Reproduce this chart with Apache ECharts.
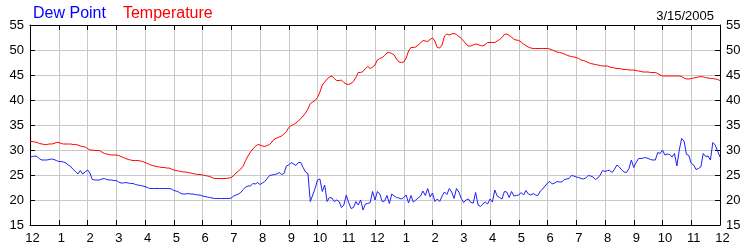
<!DOCTYPE html>
<html>
<head>
<meta charset="utf-8">
<script src="https://cdn.jsdelivr.net/npm/echarts@6/dist/echarts.min.js"></script>
<style>html,body{margin:0;padding:0;background:#fff;}#c{width:750px;height:250px;}</style>
</head>
<body>
<div id="c"></div>
<script>
// Hour tick labels (midnight to midnight)
const hourLabels = ['12','1','2','3','4','5','6','7','8','9','10','11','12','1','2','3','4','5','6','7','8','9','10','11','12'];
const seriesNames = ['Dew Point', 'Temperature'];
const dateLabel = '3/15/2005';
const samplesPerHour = 12; // 5-minute readings

// Temperature (°F), 5-minute readings from 12:00 AM to 12:00 AM
const temperature = [
  31.7,31.7,31.6,31.5,31.3,31.2,31.1,31.1,31.2,31.2,31.3,31.5,
  31.5,31.3,31.2,31.2,31.2,31.2,31.1,31.1,31.0,30.8,30.7,30.6,
  30.3,30.0,30.0,29.9,29.9,29.9,29.6,29.3,29.2,29.1,29.0,29.0,
  29.0,28.9,28.7,28.5,28.3,28.1,28.0,27.9,27.9,27.9,27.8,27.7,
  27.5,27.3,27.1,26.9,26.8,26.7,26.6,26.5,26.5,26.4,26.4,26.2,
  26.0,25.9,25.8,25.7,25.6,25.6,25.5,25.4,25.3,25.2,25.1,25.1,
  25.0,24.9,24.8,24.7,24.5,24.3,24.3,24.3,24.3,24.3,24.3,24.4,
  24.5,24.9,25.4,25.8,26.2,26.8,27.9,28.8,29.6,30.2,30.7,31.1,
  31.0,30.8,30.7,30.9,31.1,31.6,32.2,32.4,32.6,32.8,33.2,33.7,
  34.5,34.9,35.1,35.4,35.8,36.3,36.8,37.4,38.2,39.3,39.6,39.9,
  40.5,41.6,43.0,43.6,44.2,44.6,44.8,44.3,43.9,43.9,44.0,43.5,
  43.2,43.1,43.3,43.7,44.5,45.5,45.5,45.7,46.3,46.7,46.3,46.6,
  47.0,48.0,48.3,48.5,48.9,49.4,49.5,49.3,49.0,48.2,47.6,47.5,
  47.6,48.4,49.8,50.5,50.5,50.6,51.0,51.4,51.9,51.8,51.7,52.1,
  52.4,51.8,50.5,50.4,51.0,52.8,53.2,53.0,53.2,53.3,53.1,52.7,
  52.3,51.8,51.2,50.8,50.8,51.0,51.2,51.1,50.9,50.8,51.1,51.5,
  51.5,51.5,51.5,51.8,52.1,52.5,53.1,53.2,52.9,52.6,52.1,52.0,
  51.9,51.6,51.2,50.9,50.6,50.4,50.3,50.3,50.3,50.3,50.3,50.3,
  50.3,50.2,50.0,49.8,49.6,49.5,49.4,49.2,49.0,48.8,48.7,48.6,
  48.5,48.3,48.0,47.9,47.7,47.5,47.3,47.2,47.1,47.0,46.9,46.8,
  46.8,46.8,46.6,46.5,46.4,46.3,46.3,46.2,46.1,46.1,46.0,46.0,
  46.0,45.9,45.8,45.7,45.6,45.6,45.6,45.5,45.5,45.5,45.3,45.0,
  44.8,44.8,44.8,44.8,44.8,44.8,44.8,44.8,44.7,44.4,44.2,44.2,
  44.3,44.4,44.5,44.6,44.7,44.6,44.5,44.4,44.3,44.3,44.2,44.1,
  43.9
];

// Dew point (°F), 5-minute readings from 12:00 AM to 12:00 AM
const dewPoint = [
  28.6,28.7,28.8,28.7,28.2,28.0,28.0,28.0,28.1,28.2,28.1,27.9,
  27.7,27.7,27.6,27.4,27.0,26.7,26.1,25.7,25.2,25.9,25.2,25.6,
  26.0,25.4,24.1,24.0,24.0,24.0,24.2,24.3,24.1,24.0,24.0,23.9,
  23.9,23.6,23.4,23.4,23.5,23.4,23.3,23.3,23.1,23.0,22.9,22.8,
  22.7,22.5,22.3,22.3,22.3,22.3,22.3,22.3,22.3,22.3,22.3,22.2,
  21.9,21.8,21.6,21.3,21.2,21.2,21.3,21.2,21.2,21.1,21.0,21.0,
  20.8,20.7,20.6,20.5,20.4,20.3,20.3,20.3,20.3,20.3,20.3,20.3,
  20.4,20.8,21.0,21.2,21.5,22.1,22.6,22.8,22.8,23.3,23.2,23.5,
  23.1,23.4,23.7,24.3,24.9,25.0,25.1,25.2,25.5,25.1,25.3,26.8,
  27.0,27.5,27.2,26.9,27.5,27.5,26.5,25.6,25.3,19.7,21.0,22.3,
  24.0,24.2,21.7,23.0,19.7,20.5,20.4,19.7,20.0,19.7,18.5,19.0,
  21.0,19.5,18.3,18.5,19.7,19.0,20.0,18.0,19.2,19.3,19.5,21.7,
  20.0,21.7,21.2,19.7,19.8,20.9,19.3,21.2,20.8,20.5,20.4,20.2,
  20.5,21.0,19.4,20.9,19.6,20.0,20.4,20.8,21.8,20.9,22.3,20.6,
  21.4,19.7,20.2,19.7,20.8,21.6,21.1,22.3,21.6,20.3,22.3,21.6,
  20.3,19.5,20.0,20.2,19.5,19.4,21.5,19.0,18.7,19.2,19.6,19.2,
  20.2,19.6,22.0,20.8,20.5,20.2,21.7,21.6,20.5,21.7,20.8,20.9,
  21.0,21.5,21.0,21.9,21.2,21.0,21.3,21.0,20.9,21.8,22.2,22.8,
  23.4,23.7,23.2,23.4,23.7,23.6,23.6,24.1,24.2,24.3,24.9,24.8,
  24.6,24.5,24.3,24.2,24.4,24.9,24.8,24.6,24.1,24.4,25.0,25.9,
  25.7,25.9,25.9,25.5,26.2,27.0,26.6,26.0,25.6,25.5,26.3,28.0,
  26.5,27.5,28.3,28.3,28.4,28.5,28.3,28.1,28.0,28.0,29.5,29.3,
  30.0,29.0,29.2,29.1,28.6,29.3,26.8,30.0,32.3,31.8,29.1,28.9,
  27.3,27.0,26.1,26.3,26.6,29.3,28.7,28.8,28.0,31.5,31.0,29.8,
  28.6
];

const toPairs = arr => arr.map((v, i) => [i / samplesPerHour, v]);
const font = '"Liberation Sans", Arial, sans-serif';

const chart = echarts.init(document.getElementById('c'), null, {renderer: 'canvas'});
const xCommon = {
  type: 'value', min: 0, max: 24, interval: 1,
  axisLine: {show: true, onZero: false, lineStyle: {color: '#000', width: 1}},
  axisTick: {show: true, inside: true, length: 5, lineStyle: {color: '#000'}}
};
const yCommon = {
  type: 'value', min: 15, max: 55, interval: 5,
  axisLine: {show: true, onZero: false, lineStyle: {color: '#000', width: 1}},
  axisTick: {show: true, inside: true, length: 5, lineStyle: {color: '#000'}},
  axisLabel: {color: '#000', fontFamily: font, fontSize: 13, margin: 6}
};
chart.setOption({
  animation: false,
  backgroundColor: '#fff',
  title: [
    {
      text: '{a|' + seriesNames[0] + '}{b|' + seriesNames[1] + '}',
      left: 28, top: 1,
      textStyle: {
        fontWeight: 'normal',
        rich: {
          a: {color: '#0000ff', fontSize: 16, fontWeight: 'normal', fontFamily: font},
          b: {color: '#ff0000', fontSize: 16, fontWeight: 'normal', fontFamily: font, padding: [0, 0, 0, 17]}
        }
      }
    },
    {
      text: dateLabel, right: 31, top: 5,
      textStyle: {color: '#000', fontSize: 13, fontWeight: 'normal', fontFamily: font}
    }
  ],
  grid: {left: 30, right: 30, top: 25, bottom: 25, containLabel: false},
  xAxis: [
    Object.assign({}, xCommon, {
      position: 'bottom',
      splitLine: {show: true, lineStyle: {color: '#c8c8c8', width: 1}},
      axisLabel: {color: '#000', fontFamily: font, fontSize: 13, margin: 7, padding: [0, 0, 0, 5],
        formatter: v => hourLabels[Math.round(v)]}
    }),
    Object.assign({}, xCommon, {
      position: 'top',
      splitLine: {show: false},
      axisLabel: {show: false}
    })
  ],
  yAxis: [
    Object.assign({}, yCommon, {
      position: 'left',
      splitLine: {show: true, lineStyle: {color: '#c8c8c8', width: 1}}
    }),
    Object.assign({}, yCommon, {
      position: 'right',
      splitLine: {show: false}
    })
  ],
  series: [
    {
      name: seriesNames[0], type: 'line', xAxisIndex: 0, yAxisIndex: 0,
      data: toPairs(dewPoint), showSymbol: false, symbol: 'none',
      lineStyle: {color: '#1f1fff', width: 1}
    },
    {
      name: seriesNames[1], type: 'line', xAxisIndex: 0, yAxisIndex: 0,
      data: toPairs(temperature), showSymbol: false, symbol: 'none',
      lineStyle: {color: '#ff0000', width: 1}
    }
  ]
});
</script>
</body>
</html>
